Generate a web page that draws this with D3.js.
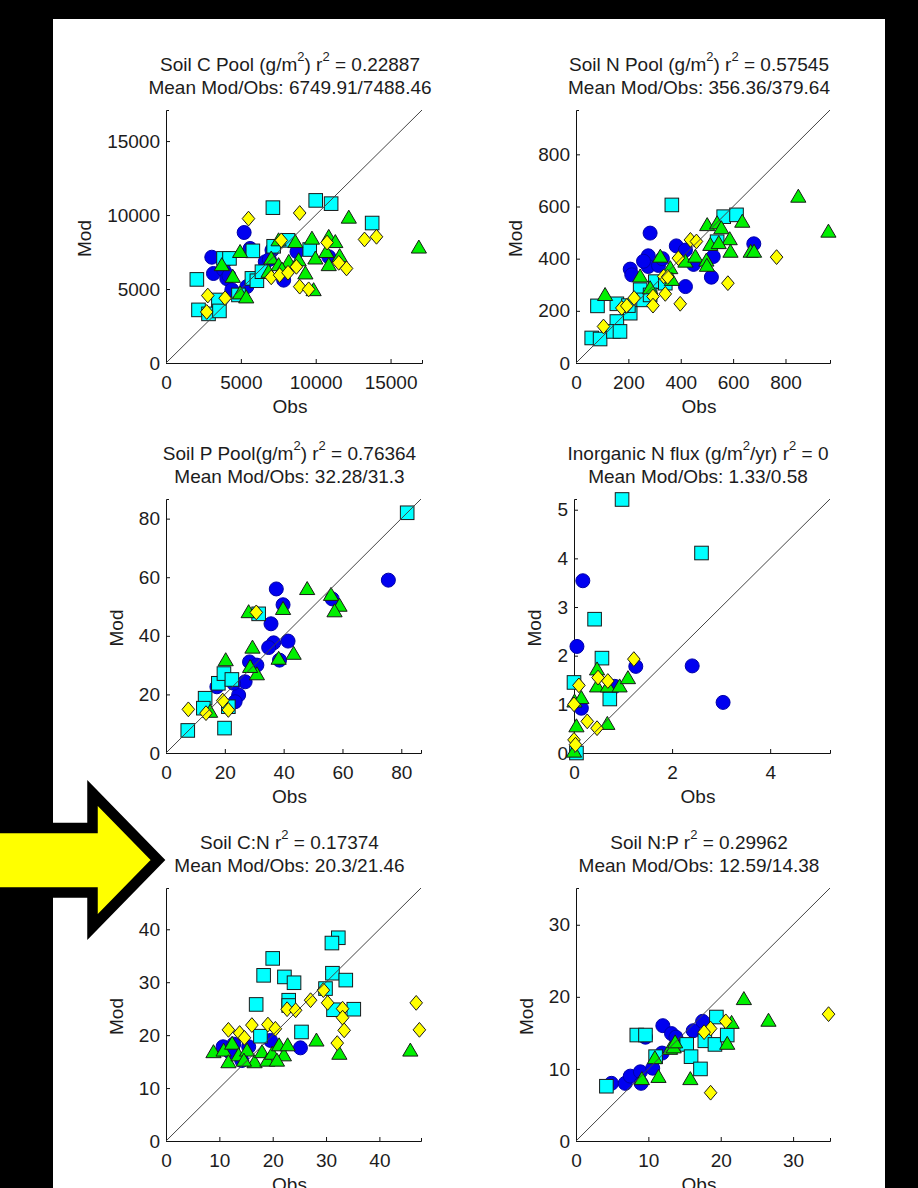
<!DOCTYPE html>
<html>
<head>
<meta charset="utf-8">
<script src="https://cdn.jsdelivr.net/npm/d3@7"></script>
<style>
  body { margin: 0; background: #000; }
</style>
</head>
<body>
<div id="fig"></div>
<script>
// ---- data: each point is [Obs, Mod] ----
// Soil C pool
let cPoolCircle = [[3060,7150],[3170,6050],[3850,6300],[4060,5700],[4400,4950],[5220,8820],[5400,5160],[5620,7740],[6630,6840],[7080,7630],[7860,5600],[8750,7520],[10870,7180],[4200,5900],[6900,7000]];
let cPoolSquare = [[2060,5650],[2170,3590],[2840,3320],[3500,4260],[3570,3520],[3840,7070],[4240,7070],[4840,4600],[5740,5720],[6070,5560],[6410,6170],[7140,10500],[7190,7890],[5800,7580],[8150,8290],[9600,7670],[10000,10990],[11030,10770],[13770,9460]];
let cPoolTriangle = [[12210,9830],[16890,7810],[3730,6620],[4950,7510],[4460,5830],[4950,4710],[5360,4440],[7030,7070],[7520,8300],[8640,8180],[8200,6840],[7520,6620],[6850,6170],[8860,6950],[9310,6060],[9750,8410],[9980,7070],[10870,8530],[11310,8180],[10870,6620],[11600,7230],[9860,4930],[10710,7510],[7750,6320]];
let cPoolDiamond = [[5510,9760],[8930,10140],[13260,8350],[14060,8530],[10760,8140],[7700,8290],[2790,4560],[2720,3450],[3950,4380],[7030,5790],[7590,5940],[8150,6100],[8710,6500],[8930,5160],[9530,4980],[11540,6770],[12060,6390]];

// Soil N pool
let nPoolCircle = [[283,498],[207,360],[213,338],[276,411],[276,370],[258,390],[315,374],[383,449],[418,433],[449,378],[418,293],[517,329],[524,408],[679,457],[330,400]];
let nPoolSquare = [[366,606],[60,96],[92,92],[82,219],[156,227],[156,159],[143,121],[168,121],[207,191],[245,281],[258,242],[303,312],[341,306],[564,561],[613,568],[539,465],[283,261],[200,220]];
let nPoolTriangle = [[849,638],[964,504],[111,261],[245,332],[322,408],[360,364],[366,319],[283,287],[418,389],[456,408],[501,529],[539,536],[555,517],[635,542],[587,475],[513,453],[590,427],[667,427],[680,427],[498,393],[500,373],[545,460]];
let nPoolDiamond = [[766,406],[580,306],[398,227],[105,140],[175,211],[194,219],[222,249],[294,255],[294,220],[341,265],[335,332],[437,472],[460,466],[391,402],[350,330]];

// Soil P pool
let pPoolCircle = [[37.5,56],[39.8,50.6],[75.6,59],[56.5,52.6],[35.7,44.1],[36.6,37.6],[34.9,36],[41.5,38.2],[38.6,31.7],[28.4,31.1],[30.9,30],[26.9,24.3],[24.7,19.8],[23.5,17.5],[17.3,22.6],[23,23.8]];
let pPoolSquare = [[82,82],[7.4,7.7],[19.9,8.5],[13.3,18.7],[12.7,15.3],[17.8,23.8],[19.7,27.1],[22.4,25.1],[21.2,15.8],[31.5,47.5]];
let pPoolTriangle = [[48,56],[56.1,54],[59,50.3],[57.3,48.4],[39.8,49.2],[28.1,48.1],[29.4,36],[43.4,33.9],[38.3,32.2],[20.3,31.7],[30.9,26.9],[28.6,29.4],[15,14.1]];
let pPoolDiamond = [[7.6,14.9],[13.6,13.6],[19.3,17.9],[21.2,14.7],[30.7,48]];

// Inorganic N flux
let nFluxCircle = [[0.18,3.54],[0.06,2.19],[2.41,1.79],[3.04,1.04],[1.26,1.78],[0.15,0.92],[0.83,1.37]];
let nFluxSquare = [[0.98,5.21],[2.6,4.11],[0.42,2.75],[0.57,1.95],[0.0,1.45],[0.73,1.11],[0.05,0.0]];
let nFluxTriangle = [[0.47,1.72],[0.47,1.37],[0.69,1.37],[0.93,1.37],[1.1,1.54],[0.01,1.06],[0.15,1.13],[0.05,0.55],[0.68,0.6],[0.0,0.03]];
let nFluxDiamond = [[0.1,1.39],[0.0,1.0],[0.49,1.55],[0.69,1.48],[1.22,1.93],[0.27,0.65],[0.47,0.51],[0.0,0.27],[0.03,0.17]];

// Soil C:N
let cnCircle = [[25.2,17.6],[10.7,17.8],[12.7,18.3],[15.5,17.8],[19.6,19],[14.2,15.2],[12,16.8]];
let cnSquare = [[32.3,38.4],[31.1,37.4],[20,34.5],[18.3,31.3],[22.2,31],[24,29.9],[31.2,31.7],[33.7,30.4],[29.9,28.8],[16.9,25.8],[23,26.6],[23,25.6],[31.4,24.8],[35.2,24.9],[25.4,20.6],[17.7,19.8]];
let cnTriangle = [[8.9,16.8],[10.8,17.1],[12.4,18.4],[11.7,14.9],[13.6,16.2],[15.2,17.1],[16.6,14.9],[18,16.8],[19,15.2],[19.9,16.5],[21.2,18.1],[22.1,16.2],[22.8,18.1],[28.2,19],[32.5,16.5],[45.8,17.1],[14.6,15.2],[20.8,15.2]];
let cnDiamond = [[46.9,26.1],[47.5,21],[11.7,21],[13.8,20.4],[14.7,19.5],[16.1,21.9],[19.1,22],[20.5,21.2],[22.7,24.9],[24.3,24.7],[27.1,26.6],[29.5,28.5],[30.3,26.1],[33.1,25],[33.1,23.3],[33.4,20.9],[32.1,18.5]];

// Soil N:P
let npCircle = [[4.9,8],[6.8,8],[7.5,9],[8.9,9.6],[9,8],[10.6,10.1],[11.9,12.2],[12,16],[13.2,14.9],[13.8,14.4],[16.2,15.3],[17.5,16.6],[9.6,14.4]];
let npSquare = [[4.2,7.6],[8.4,14.7],[9.6,14.7],[11,11.7],[15.3,13.4],[15.9,11.7],[17.2,10],[17.8,13.9],[19.4,17.2],[19.2,13.4],[20.9,14.7]];
let npTriangle = [[23.2,19.7],[26.6,16.7],[21.5,16.4],[20.9,13.5],[15.8,8.6],[11.4,8.9],[9.1,8.6],[10.9,11.5],[13,12.8],[13.5,13],[13.7,13.7]];
let npDiamond = [[34.9,17.6],[20.7,16.6],[18.6,15.6],[17.7,15.1],[18.6,6.7]];

let titles = ["Soil C Pool (g/m^2) r^2 = 0.22887", "Soil N Pool (g/m^2) r^2 = 0.57545", "Soil P Pool(g/m^2) r^2 = 0.76364",
              "Inorganic N flux (g/m^2/yr) r^2 = 0", "Soil C:N r^2 = 0.17374", "Soil N:P r^2 = 0.29962"];
let means = ["6749.91/7488.46", "356.36/379.64", "32.28/31.3", "1.33/0.58", "20.3/21.46", "12.59/14.38"];
let limits = [17100, 970, 86.7, 5.22, 47.8, 35.1];
let xTicks = [[0,5000,10000,15000],[0,200,400,600,800],[0,20,40,60,80],[0,2,4],[0,10,20,30,40],[0,10,20,30]];
let yTicks = [[0,5000,10000,15000],[0,200,400,600,800],[0,20,40,60,80],[0,1,2,3,4,5],[0,10,20,30,40],[0,10,20,30]];

let circles = [cPoolCircle, nPoolCircle, pPoolCircle, nFluxCircle, cnCircle, npCircle];
let squares = [cPoolSquare, nPoolSquare, pPoolSquare, nFluxSquare, cnSquare, npSquare];
let triangles = [cPoolTriangle, nPoolTriangle, pPoolTriangle, nFluxTriangle, cnTriangle, npTriangle];
let diamonds = [cPoolDiamond, nPoolDiamond, pPoolDiamond, nFluxDiamond, cnDiamond, npDiamond];

// ---- layout ----
let font = "'Liberation Sans', Arial, Helvetica, sans-serif";
let textColor = "#1c1c1c";
let layout = [
    {left: 166, top: 110, w: 256, h: 253},
    {left: 576, top: 110, w: 254, h: 253},
    {left: 166, top: 499, w: 255, h: 254},
    {left: 574, top: 499, w: 256, h: 254},
    {left: 166, top: 888, w: 255, h: 253},
    {left: 576, top: 888, w: 254, h: 253}
];

let svg = d3.select("#fig")
    .append("svg")
    .attr("width", 918)
    .attr("height", 1188)
    .style("display", "block");

svg.append("rect")
    .attr("x", 0).attr("y", 0)
    .attr("width", 918).attr("height", 1188)
    .attr("fill", "#000");

svg.append("rect")
    .attr("x", 53).attr("y", 19)
    .attr("width", 832).attr("height", 1169)
    .attr("fill", "#fff");

let trianglePath = "M0,-7.4L7.6,5.6L-7.6,5.6Z";
let diamondPath = "M0,-7.4L6.3,0L0,7.4L-6.3,0Z";

let drawPanel = function(i) {
    let p = layout[i];
    let lim = limits[i];

    let g = svg.append("g")
        .attr("transform", "translate(" + p.left + "," + p.top + ")");

    let x = d3.scaleLinear().domain([0, lim]).range([0, p.w]);
    let y = d3.scaleLinear().domain([0, lim]).range([p.h, 0]);

    // axes (drawn under the data, like matlab)
    let xAxis = g.append("g")
        .attr("transform", "translate(0," + p.h + ")")
        .call(d3.axisBottom(x).tickValues(xTicks[i]).tickFormat(d => d)
            .tickSizeInner(-4).tickSizeOuter(-3).tickPadding(13));

    let yAxis = g.append("g")
        .call(d3.axisLeft(y).tickValues(yTicks[i]).tickFormat(d => d)
            .tickSizeInner(-4).tickSizeOuter(-3).tickPadding(6));

    [xAxis, yAxis].forEach(a => {
        a.select(".domain").attr("stroke", "#111").attr("stroke-width", 1);
        a.selectAll(".tick line").attr("stroke", "#111");
        a.selectAll("text")
            .style("font-family", font)
            .style("font-size", "19px")
            .attr("fill", textColor);
    });

    // markers
    g.append("g").selectAll("circle")
        .data(circles[i])
        .enter()
        .append("circle")
        .attr("cx", d => x(d[0]))
        .attr("cy", d => y(d[1]))
        .attr("r", 7)
        .attr("fill", "#0000f0")
        .attr("stroke", "#0000a8")
        .attr("stroke-width", 1);

    g.append("g").selectAll("rect")
        .data(squares[i])
        .enter()
        .append("rect")
        .attr("x", d => x(d[0]) - 6.8)
        .attr("y", d => y(d[1]) - 6.8)
        .attr("width", 13.6)
        .attr("height", 13.6)
        .attr("fill", "#00ffff")
        .attr("stroke", "#1a1a1a")
        .attr("stroke-width", 1);

    g.append("g").selectAll("path")
        .data(triangles[i])
        .enter()
        .append("path")
        .attr("d", trianglePath)
        .attr("transform", d => "translate(" + x(d[0]) + "," + y(d[1]) + ")")
        .attr("fill", "#00f000")
        .attr("stroke", "#1a1a1a")
        .attr("stroke-width", 1);

    g.append("g").selectAll("path")
        .data(diamonds[i])
        .enter()
        .append("path")
        .attr("d", diamondPath)
        .attr("transform", d => "translate(" + x(d[0]) + "," + y(d[1]) + ")")
        .attr("fill", "#ffff00")
        .attr("stroke", "#1a1a1a")
        .attr("stroke-width", 1);

    // 1:1 line
    g.append("line")
        .attr("x1", x(0)).attr("y1", y(0))
        .attr("x2", x(lim)).attr("y2", y(lim))
        .attr("stroke", "#444")
        .attr("stroke-width", 1);

    // title, two lines, with superscript 2
    let cx = p.w / 2 - 4;
    let t1 = g.append("text")
        .attr("x", cx).attr("y", -39)
        .attr("text-anchor", "middle")
        .style("font-family", font)
        .style("font-size", "19px")
        .attr("fill", textColor);
    let parts = titles[i].split("^2");
    parts.forEach((s, k) => {
        t1.append("tspan").attr("dy", k > 0 ? 10 : 0).text(s);
        if (k < parts.length - 1) {
            t1.append("tspan").attr("dy", -10).style("font-size", "13px").text("2");
        }
    });

    g.append("text")
        .attr("x", cx).attr("y", -16)
        .attr("text-anchor", "middle")
        .style("font-family", font)
        .style("font-size", "19px")
        .attr("fill", textColor)
        .text("Mean Mod/Obs: " + means[i]);

    // X label
    g.append("text")
        .attr("x", cx).attr("y", p.h + 50)
        .attr("text-anchor", "middle")
        .style("font-family", font)
        .style("font-size", "19px")
        .attr("fill", textColor)
        .text("Obs");

    // Y label, left of the widest tick label
    let maxW = d3.max(yAxis.selectAll("text").nodes(), n => n.getComputedTextLength());
    g.append("text")
        .attr("text-anchor", "middle")
        .attr("dy", "0.35em")
        .attr("transform", "translate(" + (-(6 + maxW + 23)) + "," + (p.h / 2 + 2) + ")rotate(-90)")
        .style("font-family", font)
        .style("font-size", "19px")
        .attr("fill", textColor)
        .text("Mod");
};

for (let i = 0; i < 6; i++) {
    drawPanel(i);
}

// the yellow arrow pointing at the C:N panel
svg.append("polygon")
    .attr("points", "-20,828 92.5,828 92.5,793 158,860 92.5,927 92.5,892.5 -20,892.5")
    .attr("fill", "#ffff00")
    .attr("stroke", "#000")
    .attr("stroke-width", 10.5)
    .attr("stroke-linejoin", "miter");
</script>
</body>
</html>
